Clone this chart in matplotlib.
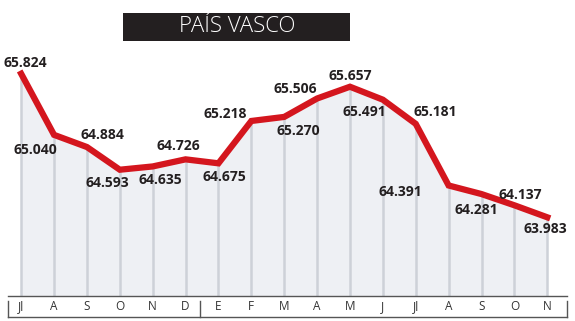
import matplotlib
matplotlib.use('Agg')

import matplotlib.pyplot as plt
from matplotlib.patches import Rectangle
from matplotlib.lines import Line2D

# data
months = ['Jl', 'A', 'S', 'O', 'N', 'D', 'E', 'F', 'M', 'A', 'M', 'J', 'Jl', 'A', 'S', 'O', 'N']
values = [65.824, 65.040, 64.884, 64.593, 64.635, 64.726, 64.675, 65.218, 65.270,
          65.506, 65.657, 65.491, 65.181, 64.391, 64.281, 64.137, 63.983]
labels = ['65.824', '65.040', '64.884', '64.593', '64.635', '64.726', '64.675', '65.218', '65.270',
          '65.506', '65.657', '65.491', '65.181', '64.391', '64.281', '64.137', '63.983']
title = 'PAÍS VASCO'

# label offsets in pixels (dx, dy)
offsets = [(4, 11), (-19, -15), (16, 12), (-12, -13), (8, -14), (-7, 13), (6, -14),
           (-26, 7), (14, -14), (-22, 10), (0, 11), (-19, -12), (20, 12), (-48, -7),
           (-5, -16), (6, 10), (-2, -12)]

RED = '#d4161e'
DARK = '#231f20'

W, H = 575, 321
fig = plt.figure(figsize=(W / 100, H / 100), dpi=100)
ax = fig.add_axes([8 / W, 1 - 296 / H, 559 / W, 296 / H])

x = list(range(len(values)))
ymin, ymax = 62.974, 66.769
ax.fill_between(x, ymin, values, color='#eef0f4', zorder=1, linewidth=0)
ax.vlines(x, ymin, values, color='#cdd1d8', linewidth=1.8, zorder=2)
ax.plot(x, values, color=RED, linewidth=4.5, solid_joinstyle='miter', zorder=3)

for i, (v, lab) in enumerate(zip(values, labels)):
    dx, dy = offsets[i]
    ax.annotate(lab, (i, v), xytext=(dx, dy), textcoords='offset pixels',
                ha='center', va='center', fontsize=10, fontweight='bold',
                family='Open Sans', color=DARK, zorder=4)

ax.set_xlim(-0.4, 16.6)
ax.set_ylim(ymin, ymax)
ax.axis('off')

# month axis box
axis_col = '#555555'
fig.add_artist(Line2D([8 / W, 567 / W], [1 - 296 / H, 1 - 296 / H], transform=fig.transFigure,
                      color=axis_col, lw=1))
fig.add_artist(Line2D([8 / W, 567 / W], [1 - 317 / H, 1 - 317 / H], transform=fig.transFigure,
                      color=axis_col, lw=1))
for px in (8, 200, 567):
    fig.add_artist(Line2D([px / W, px / W], [1 - 301 / H, 1 - 317 / H], transform=fig.transFigure,
                          color=axis_col, lw=1))
for i, m in enumerate(months):
    xf = ax.transData.transform((i, 0))[0]
    fig.text(xf / W, 1 - 307 / H, m, ha='center', va='center', fontsize=8.5,
             family='Open Sans', color='#333333')

# title box
fig.add_artist(Rectangle((123 / W, 1 - 41 / H), 227 / W, 28 / H, transform=fig.transFigure,
                         facecolor=DARK, edgecolor='none'))
fig.text(237 / W, 1 - 27 / H, title, ha='center', va='center', fontsize=16,
         fontweight='light', family='Open Sans', color='white')

fig.savefig('out.png', dpi=100)
